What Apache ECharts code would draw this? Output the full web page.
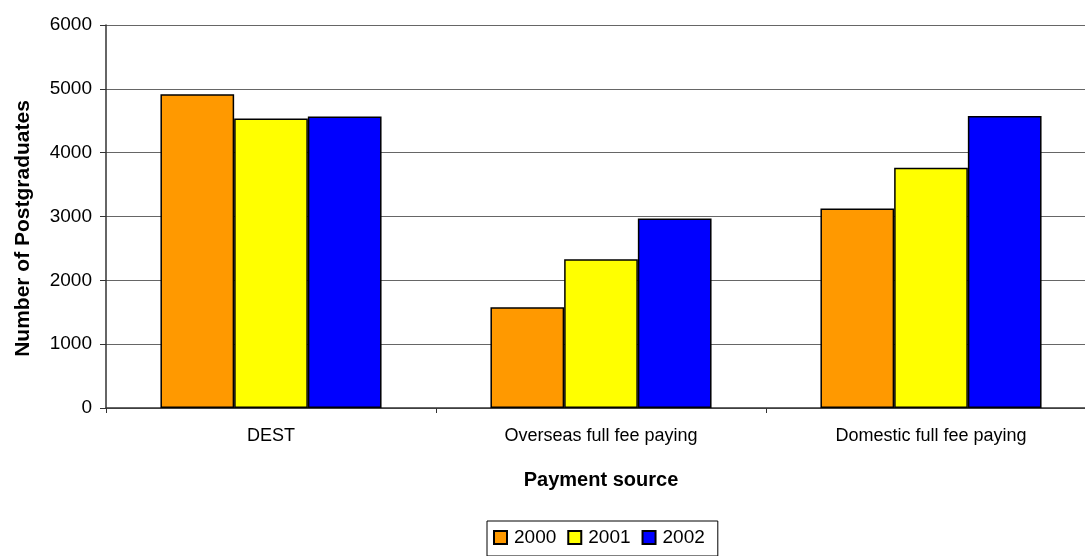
<!DOCTYPE html>
<html>
<head>
<meta charset="utf-8">
<script src="https://cdn.jsdelivr.net/npm/echarts@6/dist/echarts.min.js"></script>
<style>
  html, body { margin: 0; padding: 0; background: #fff; }
  #chart { width: 1085px; height: 556px; }
</style>
</head>
<body>
<div id="chart"></div>
<script>
// payment source categories
const categories = ['DEST', 'Overseas full fee paying', 'Domestic full fee paying'];
// postgraduates per year
const years = ['2000', '2001', '2002'];
const values2000 = [4915, 1580, 3125];
const values2001 = [4535, 2330, 3765];
const values2002 = [4565, 2970, 4575];
const colors = ['#FF9900', '#FFFF00', '#0000FF'];

const chart = echarts.init(document.getElementById('chart'));

const font = 'Liberation Sans, Arial, sans-serif';

function barSeries(name, data) {
  return {
    name: name,
    type: 'bar',
    data: data,
    barGap: '0%',
    barCategoryGap: '33%',
    itemStyle: {
      borderColor: '#000',
      borderWidth: 1.5
    }
  };
}

const option = {
  animation: false,
  color: colors,
  grid: {
    left: 106,
    right: -11,
    top: 25,
    bottom: 148,
    containLabel: false,
    outerBoundsMode: 'none'
  },
  legend: {
    data: years,
    left: 487,
    top: 521,
    icon: 'rect',
    itemWidth: 13,
    itemHeight: 13,
    itemGap: 11,
    padding: [7, 13, 9, 6],
    borderColor: '#000',
    borderWidth: 1,
    textStyle: {
      fontFamily: font,
      fontSize: 19,
      color: '#000',
      padding: [0, 0, 0, 2]
    }
  },
  xAxis: {
    type: 'category',
    data: categories,
    name: 'Payment source',
    nameLocation: 'middle',
    nameGap: 62,
    nameTextStyle: {
      fontFamily: font,
      fontSize: 20,
      fontWeight: 'bold',
      color: '#000'
    },
    axisLine: { lineStyle: { color: '#333', width: 1.5 } },
    axisTick: { show: true, length: 5, lineStyle: { color: '#333' } },
    axisLabel: {
      fontFamily: font,
      fontSize: 18,
      color: '#000',
      margin: 19
    }
  },
  yAxis: {
    type: 'value',
    min: 0,
    max: 6000,
    interval: 1000,
    name: 'Number of Postgraduates',
    nameLocation: 'middle',
    nameGap: 72,
    nameTextStyle: {
      fontFamily: font,
      fontSize: 21,
      fontWeight: 'bold',
      color: '#000',
      padding: [0, 24, 0, 0]
    },
    axisLine: { show: true, lineStyle: { color: '#333', width: 1.5 } },
    axisTick: { show: true, length: 6, lineStyle: { color: '#333' } },
    axisLabel: {
      fontFamily: font,
      fontSize: 19,
      color: '#000',
      margin: 14,
      formatter: function (v) { return String(v); }
    },
    splitLine: { lineStyle: { color: '#666', width: 1 } }
  },
  series: [
    barSeries(years[0], values2000),
    barSeries(years[1], values2001),
    barSeries(years[2], values2002)
  ]
};

chart.setOption(option);
</script>
</body>
</html>
